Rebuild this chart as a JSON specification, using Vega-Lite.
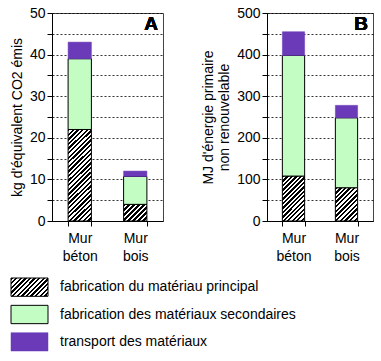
{
"$schema":"https://vega.github.io/schema/vega-lite/v6.json",
"padding":{"left":9,"top":5,"right":0,"bottom":0},
"datasets":{
"co2":[
{"mur":"Mur béton","poste":"fabrication du matériau principal","ordre":1,"valeur":22},
{"mur":"Mur béton","poste":"fabrication des matériaux secondaires","ordre":2,"valeur":17},
{"mur":"Mur béton","poste":"transport des matériaux","ordre":3,"valeur":4},
{"mur":"Mur bois","poste":"fabrication du matériau principal","ordre":1,"valeur":4},
{"mur":"Mur bois","poste":"fabrication des matériaux secondaires","ordre":2,"valeur":6.7},
{"mur":"Mur bois","poste":"transport des matériaux","ordre":3,"valeur":1.3}
],
"energie":[
{"mur":"Mur béton","poste":"fabrication du matériau principal","ordre":1,"valeur":108},
{"mur":"Mur béton","poste":"fabrication des matériaux secondaires","ordre":2,"valeur":290},
{"mur":"Mur béton","poste":"transport des matériaux","ordre":3,"valeur":57},
{"mur":"Mur bois","poste":"fabrication du matériau principal","ordre":1,"valeur":80},
{"mur":"Mur bois","poste":"fabrication des matériaux secondaires","ordre":2,"valeur":168},
{"mur":"Mur bois","poste":"transport des matériaux","ordre":3,"valeur":30}
],
"legende":[
{"poste":"fabrication du matériau principal","ordre":1},
{"poste":"fabrication des matériaux secondaires","ordre":2},
{"poste":"transport des matériaux","ordre":3}
]
},
"spacing":13,
"vconcat":[
{"hconcat":[
{
"width":111,"height":208,
"data":{"name":"co2"},
"transform":[{"stack":"valeur","groupby":["mur"],"sort":[{"field":"ordre"}],"as":["y0","y1"]}],
"layer":[
{
"encoding":{
"x":{"field":"mur","type":"nominal","sort":["Mur béton","Mur bois"],"scale":{"paddingInner":0.58,"paddingOuter":0.29},
"axis":{"title":null,"labelAngle":0,"labelExpr":"split(datum.label,' ')","tickBand":"extent","tickSize":5,"labelPadding":5,"labelLineHeight":18,"grid":false}},
"y":{"field":"y0","type":"quantitative","scale":{"domain":[0,50],"nice":false},
"axis":{"title":"kg d'équivalent CO2 émis","values":[0,5,10,15,20,25,30,35,40,45,50],"labelExpr":"datum.value % 10 === 0 ? datum.label : ''","grid":true,"tickSize":5,"labelPadding":2,"titlePadding":5}},
"y2":{"field":"y1"}
},
"layer":[
{"transform":[{"filter":"datum.ordre == 1 && datum.mur == 'Mur béton'"}],
"mark":{"type":"bar","stroke":"#000","strokeWidth":1,"fill":{"gradient":"linear","x1":0,"y1":0,"x2":0.2959,"y2":1.177,"stops":[
{"offset":0,"color":"#000"},{"offset":0.02,"color":"#000"},{"offset":0.02,"color":"#fff"},{"offset":0.04,"color":"#fff"},
{"offset":0.04,"color":"#000"},{"offset":0.06,"color":"#000"},{"offset":0.06,"color":"#fff"},{"offset":0.08,"color":"#fff"},
{"offset":0.08,"color":"#000"},{"offset":0.1,"color":"#000"},{"offset":0.1,"color":"#fff"},{"offset":0.12,"color":"#fff"},
{"offset":0.12,"color":"#000"},{"offset":0.14,"color":"#000"},{"offset":0.14,"color":"#fff"},{"offset":0.16,"color":"#fff"},
{"offset":0.16,"color":"#000"},{"offset":0.18,"color":"#000"},{"offset":0.18,"color":"#fff"},{"offset":0.2,"color":"#fff"},
{"offset":0.2,"color":"#000"},{"offset":0.22,"color":"#000"},{"offset":0.22,"color":"#fff"},{"offset":0.24,"color":"#fff"},
{"offset":0.24,"color":"#000"},{"offset":0.26,"color":"#000"},{"offset":0.26,"color":"#fff"},{"offset":0.28,"color":"#fff"},
{"offset":0.28,"color":"#000"},{"offset":0.3,"color":"#000"},{"offset":0.3,"color":"#fff"},{"offset":0.32,"color":"#fff"},
{"offset":0.32,"color":"#000"},{"offset":0.34,"color":"#000"},{"offset":0.34,"color":"#fff"},{"offset":0.36,"color":"#fff"},
{"offset":0.36,"color":"#000"},{"offset":0.38,"color":"#000"},{"offset":0.38,"color":"#fff"},{"offset":0.4,"color":"#fff"},
{"offset":0.4,"color":"#000"},{"offset":0.42,"color":"#000"},{"offset":0.42,"color":"#fff"},{"offset":0.44,"color":"#fff"},
{"offset":0.44,"color":"#000"},{"offset":0.46,"color":"#000"},{"offset":0.46,"color":"#fff"},{"offset":0.48,"color":"#fff"},
{"offset":0.48,"color":"#000"},{"offset":0.5,"color":"#000"},{"offset":0.5,"color":"#fff"},{"offset":0.52,"color":"#fff"},
{"offset":0.52,"color":"#000"},{"offset":0.54,"color":"#000"},{"offset":0.54,"color":"#fff"},{"offset":0.56,"color":"#fff"},
{"offset":0.56,"color":"#000"},{"offset":0.58,"color":"#000"},{"offset":0.58,"color":"#fff"},{"offset":0.6,"color":"#fff"},
{"offset":0.6,"color":"#000"},{"offset":0.62,"color":"#000"},{"offset":0.62,"color":"#fff"},{"offset":0.64,"color":"#fff"},
{"offset":0.64,"color":"#000"},{"offset":0.66,"color":"#000"},{"offset":0.66,"color":"#fff"},{"offset":0.68,"color":"#fff"},
{"offset":0.68,"color":"#000"},{"offset":0.7,"color":"#000"},{"offset":0.7,"color":"#fff"},{"offset":0.72,"color":"#fff"},
{"offset":0.72,"color":"#000"},{"offset":0.74,"color":"#000"},{"offset":0.74,"color":"#fff"},{"offset":0.76,"color":"#fff"},
{"offset":0.76,"color":"#000"},{"offset":0.78,"color":"#000"},{"offset":0.78,"color":"#fff"},{"offset":0.8,"color":"#fff"},
{"offset":0.8,"color":"#000"},{"offset":0.82,"color":"#000"},{"offset":0.82,"color":"#fff"},{"offset":0.84,"color":"#fff"},
{"offset":0.84,"color":"#000"},{"offset":0.86,"color":"#000"},{"offset":0.86,"color":"#fff"},{"offset":0.88,"color":"#fff"},
{"offset":0.88,"color":"#000"},{"offset":0.9,"color":"#000"},{"offset":0.9,"color":"#fff"},{"offset":0.92,"color":"#fff"},
{"offset":0.92,"color":"#000"},{"offset":0.94,"color":"#000"},{"offset":0.94,"color":"#fff"},{"offset":0.96,"color":"#fff"},
{"offset":0.96,"color":"#000"},{"offset":0.98,"color":"#000"},{"offset":0.98,"color":"#fff"},{"offset":1,"color":"#fff"}
]}}},
{"transform":[{"filter":"datum.ordre == 1 && datum.mur == 'Mur bois'"}],
"mark":{"type":"bar","stroke":"#000","strokeWidth":1,"fill":{"gradient":"linear","x1":0,"y1":0,"x2":1.135,"y2":0.811,"stops":[
{"offset":0,"color":"#000"},{"offset":0.0625,"color":"#000"},{"offset":0.0625,"color":"#fff"},{"offset":0.125,"color":"#fff"},
{"offset":0.125,"color":"#000"},{"offset":0.1875,"color":"#000"},{"offset":0.1875,"color":"#fff"},{"offset":0.25,"color":"#fff"},
{"offset":0.25,"color":"#000"},{"offset":0.3125,"color":"#000"},{"offset":0.3125,"color":"#fff"},{"offset":0.375,"color":"#fff"},
{"offset":0.375,"color":"#000"},{"offset":0.4375,"color":"#000"},{"offset":0.4375,"color":"#fff"},{"offset":0.5,"color":"#fff"},
{"offset":0.5,"color":"#000"},{"offset":0.5625,"color":"#000"},{"offset":0.5625,"color":"#fff"},{"offset":0.625,"color":"#fff"},
{"offset":0.625,"color":"#000"},{"offset":0.6875,"color":"#000"},{"offset":0.6875,"color":"#fff"},{"offset":0.75,"color":"#fff"},
{"offset":0.75,"color":"#000"},{"offset":0.8125,"color":"#000"},{"offset":0.8125,"color":"#fff"},{"offset":0.875,"color":"#fff"},
{"offset":0.875,"color":"#000"},{"offset":0.9375,"color":"#000"},{"offset":0.9375,"color":"#fff"},{"offset":1,"color":"#fff"}
]}}},
{"transform":[{"filter":"datum.ordre == 2"}],"mark":{"type":"bar","fill":"#c4fdc4","stroke":"#000","strokeWidth":1}},
{"transform":[{"filter":"datum.ordre == 3"}],"mark":{"type":"bar","fill":"#6a3ab8","stroke":"#6a3ab8","strokeWidth":0.5}}
]
},
{"mark":{"type":"text","text":"A","fontSize":19,"fontWeight":"bold","align":"right","baseline":"top","dx":-5,"dy":2,"font":"Liberation Sans","color":"#000"},
"encoding":{"x":{"value":"width"},"y":{"value":0}}}
]
},
{
"width":106,"height":208,
"data":{"name":"energie"},
"transform":[{"stack":"valeur","groupby":["mur"],"sort":[{"field":"ordre"}],"as":["y0","y1"]}],
"layer":[
{
"encoding":{
"x":{"field":"mur","type":"nominal","sort":["Mur béton","Mur bois"],"scale":{"paddingInner":0.58,"paddingOuter":0.29},
"axis":{"title":null,"labelAngle":0,"labelExpr":"split(datum.label,' ')","tickBand":"extent","tickSize":5,"labelPadding":5,"labelLineHeight":18,"grid":false}},
"y":{"field":"y0","type":"quantitative","scale":{"domain":[0,500],"nice":false},
"axis":{"title":["MJ d'énergie primaire","non renouvelable"],"values":[0,50,100,150,200,250,300,350,400,450,500],"labelExpr":"datum.value % 100 === 0 ? datum.label : ''","grid":true,"tickSize":5,"labelPadding":2,"titlePadding":5,"titleLineHeight":16}},
"y2":{"field":"y1"}
},
"layer":[
{"transform":[{"filter":"datum.ordre == 1 && datum.mur == 'Mur béton'"}],
"mark":{"type":"bar","stroke":"#000","strokeWidth":1,"fill":{"gradient":"linear","x1":0,"y1":0,"x2":0.596,"y2":1.2005,"stops":[
{"offset":0,"color":"#000"},{"offset":0.0333,"color":"#000"},{"offset":0.0333,"color":"#fff"},{"offset":0.0667,"color":"#fff"},
{"offset":0.0667,"color":"#000"},{"offset":0.1,"color":"#000"},{"offset":0.1,"color":"#fff"},{"offset":0.1333,"color":"#fff"},
{"offset":0.1333,"color":"#000"},{"offset":0.1667,"color":"#000"},{"offset":0.1667,"color":"#fff"},{"offset":0.2,"color":"#fff"},
{"offset":0.2,"color":"#000"},{"offset":0.2333,"color":"#000"},{"offset":0.2333,"color":"#fff"},{"offset":0.2667,"color":"#fff"},
{"offset":0.2667,"color":"#000"},{"offset":0.3,"color":"#000"},{"offset":0.3,"color":"#fff"},{"offset":0.3333,"color":"#fff"},
{"offset":0.3333,"color":"#000"},{"offset":0.3667,"color":"#000"},{"offset":0.3667,"color":"#fff"},{"offset":0.4,"color":"#fff"},
{"offset":0.4,"color":"#000"},{"offset":0.4333,"color":"#000"},{"offset":0.4333,"color":"#fff"},{"offset":0.4667,"color":"#fff"},
{"offset":0.4667,"color":"#000"},{"offset":0.5,"color":"#000"},{"offset":0.5,"color":"#fff"},{"offset":0.5333,"color":"#fff"},
{"offset":0.5333,"color":"#000"},{"offset":0.5667,"color":"#000"},{"offset":0.5667,"color":"#fff"},{"offset":0.6,"color":"#fff"},
{"offset":0.6,"color":"#000"},{"offset":0.6333,"color":"#000"},{"offset":0.6333,"color":"#fff"},{"offset":0.6667,"color":"#fff"},
{"offset":0.6667,"color":"#000"},{"offset":0.7,"color":"#000"},{"offset":0.7,"color":"#fff"},{"offset":0.7333,"color":"#fff"},
{"offset":0.7333,"color":"#000"},{"offset":0.7667,"color":"#000"},{"offset":0.7667,"color":"#fff"},{"offset":0.8,"color":"#fff"},
{"offset":0.8,"color":"#000"},{"offset":0.8333,"color":"#000"},{"offset":0.8333,"color":"#fff"},{"offset":0.8667,"color":"#fff"},
{"offset":0.8667,"color":"#000"},{"offset":0.9,"color":"#000"},{"offset":0.9,"color":"#fff"},{"offset":0.9333,"color":"#fff"},
{"offset":0.9333,"color":"#000"},{"offset":0.9667,"color":"#000"},{"offset":0.9667,"color":"#fff"},{"offset":1,"color":"#fff"}
]}}},
{"transform":[{"filter":"datum.ordre == 1 && datum.mur == 'Mur bois'"}],
"mark":{"type":"bar","stroke":"#000","strokeWidth":1,"fill":{"gradient":"linear","x1":0,"y1":0,"x2":0.772,"y2":1.153,"stops":[
{"offset":0,"color":"#000"},{"offset":0.0417,"color":"#000"},{"offset":0.0417,"color":"#fff"},{"offset":0.0833,"color":"#fff"},
{"offset":0.0833,"color":"#000"},{"offset":0.125,"color":"#000"},{"offset":0.125,"color":"#fff"},{"offset":0.1667,"color":"#fff"},
{"offset":0.1667,"color":"#000"},{"offset":0.2083,"color":"#000"},{"offset":0.2083,"color":"#fff"},{"offset":0.25,"color":"#fff"},
{"offset":0.25,"color":"#000"},{"offset":0.2917,"color":"#000"},{"offset":0.2917,"color":"#fff"},{"offset":0.3333,"color":"#fff"},
{"offset":0.3333,"color":"#000"},{"offset":0.375,"color":"#000"},{"offset":0.375,"color":"#fff"},{"offset":0.4167,"color":"#fff"},
{"offset":0.4167,"color":"#000"},{"offset":0.4583,"color":"#000"},{"offset":0.4583,"color":"#fff"},{"offset":0.5,"color":"#fff"},
{"offset":0.5,"color":"#000"},{"offset":0.5417,"color":"#000"},{"offset":0.5417,"color":"#fff"},{"offset":0.5833,"color":"#fff"},
{"offset":0.5833,"color":"#000"},{"offset":0.625,"color":"#000"},{"offset":0.625,"color":"#fff"},{"offset":0.6667,"color":"#fff"},
{"offset":0.6667,"color":"#000"},{"offset":0.7083,"color":"#000"},{"offset":0.7083,"color":"#fff"},{"offset":0.75,"color":"#fff"},
{"offset":0.75,"color":"#000"},{"offset":0.7917,"color":"#000"},{"offset":0.7917,"color":"#fff"},{"offset":0.8333,"color":"#fff"},
{"offset":0.8333,"color":"#000"},{"offset":0.875,"color":"#000"},{"offset":0.875,"color":"#fff"},{"offset":0.9167,"color":"#fff"},
{"offset":0.9167,"color":"#000"},{"offset":0.9583,"color":"#000"},{"offset":0.9583,"color":"#fff"},{"offset":1,"color":"#fff"}
]}}},
{"transform":[{"filter":"datum.ordre == 2"}],"mark":{"type":"bar","fill":"#c4fdc4","stroke":"#000","strokeWidth":1}},
{"transform":[{"filter":"datum.ordre == 3"}],"mark":{"type":"bar","fill":"#6a3ab8","stroke":"#6a3ab8","strokeWidth":0.5}}
]
},
{"mark":{"type":"text","text":"B","fontSize":19,"fontWeight":"bold","align":"right","baseline":"top","dx":-5,"dy":2,"font":"Liberation Sans","color":"#000"},
"encoding":{"x":{"value":"width"},"y":{"value":0}}}
]
}
],"spacing":37},
{
"width":37,"height":73,
"view":{"stroke":null},
"data":{"name":"legende"},
"encoding":{
"y":{"field":"poste","type":"nominal","sort":{"field":"ordre"},"axis":null,"scale":{"paddingInner":0.33,"paddingOuter":0}},
"x":{"value":0},"x2":{"value":"width"}
},
"layer":[
{"transform":[{"filter":"datum.ordre == 1"}],
"mark":{"type":"rect","xOffset":-41,"x2Offset":-41,"stroke":"#000","strokeWidth":1,"fill":{"gradient":"linear","x1":0,"y1":0,"x2":1.202,"y2":0.585,"stops":[
{"offset":0,"color":"#000"},{"offset":0.0417,"color":"#000"},{"offset":0.0417,"color":"#fff"},{"offset":0.0833,"color":"#fff"},
{"offset":0.0833,"color":"#000"},{"offset":0.125,"color":"#000"},{"offset":0.125,"color":"#fff"},{"offset":0.1667,"color":"#fff"},
{"offset":0.1667,"color":"#000"},{"offset":0.2083,"color":"#000"},{"offset":0.2083,"color":"#fff"},{"offset":0.25,"color":"#fff"},
{"offset":0.25,"color":"#000"},{"offset":0.2917,"color":"#000"},{"offset":0.2917,"color":"#fff"},{"offset":0.3333,"color":"#fff"},
{"offset":0.3333,"color":"#000"},{"offset":0.375,"color":"#000"},{"offset":0.375,"color":"#fff"},{"offset":0.4167,"color":"#fff"},
{"offset":0.4167,"color":"#000"},{"offset":0.4583,"color":"#000"},{"offset":0.4583,"color":"#fff"},{"offset":0.5,"color":"#fff"},
{"offset":0.5,"color":"#000"},{"offset":0.5417,"color":"#000"},{"offset":0.5417,"color":"#fff"},{"offset":0.5833,"color":"#fff"},
{"offset":0.5833,"color":"#000"},{"offset":0.625,"color":"#000"},{"offset":0.625,"color":"#fff"},{"offset":0.6667,"color":"#fff"},
{"offset":0.6667,"color":"#000"},{"offset":0.7083,"color":"#000"},{"offset":0.7083,"color":"#fff"},{"offset":0.75,"color":"#fff"},
{"offset":0.75,"color":"#000"},{"offset":0.7917,"color":"#000"},{"offset":0.7917,"color":"#fff"},{"offset":0.8333,"color":"#fff"},
{"offset":0.8333,"color":"#000"},{"offset":0.875,"color":"#000"},{"offset":0.875,"color":"#fff"},{"offset":0.9167,"color":"#fff"},
{"offset":0.9167,"color":"#000"},{"offset":0.9583,"color":"#000"},{"offset":0.9583,"color":"#fff"},{"offset":1,"color":"#fff"}
]}}},
{"transform":[{"filter":"datum.ordre == 2"}],"mark":{"type":"rect","xOffset":-41,"x2Offset":-41,"fill":"#c4fdc4","stroke":"#000","strokeWidth":1}},
{"transform":[{"filter":"datum.ordre == 3"}],"mark":{"type":"rect","xOffset":-41,"x2Offset":-41,"fill":"#6a3ab8","stroke":"#6a3ab8","strokeWidth":0.5}},
{"mark":{"type":"text","align":"left","baseline":"middle","dx":-29,"fontSize":14,"font":"Liberation Sans","color":"#000"},
"encoding":{"x":{"value":"width"},"x2":null,"text":{"field":"poste"}}}
]
}
],
"config":{
"font":"Liberation Sans",
"view":{"stroke":"#444","strokeWidth":1},
"axis":{"labelFont":"Liberation Sans","labelFontSize":14,"labelColor":"#000","titleFont":"Liberation Sans","titleFontSize":14,"titleFontWeight":"normal","titleColor":"#000","domainColor":"#000","tickColor":"#000","gridColor":"#000","gridDash":[2,2],"gridWidth":0.8,"gridOpacity":1}
}
}
